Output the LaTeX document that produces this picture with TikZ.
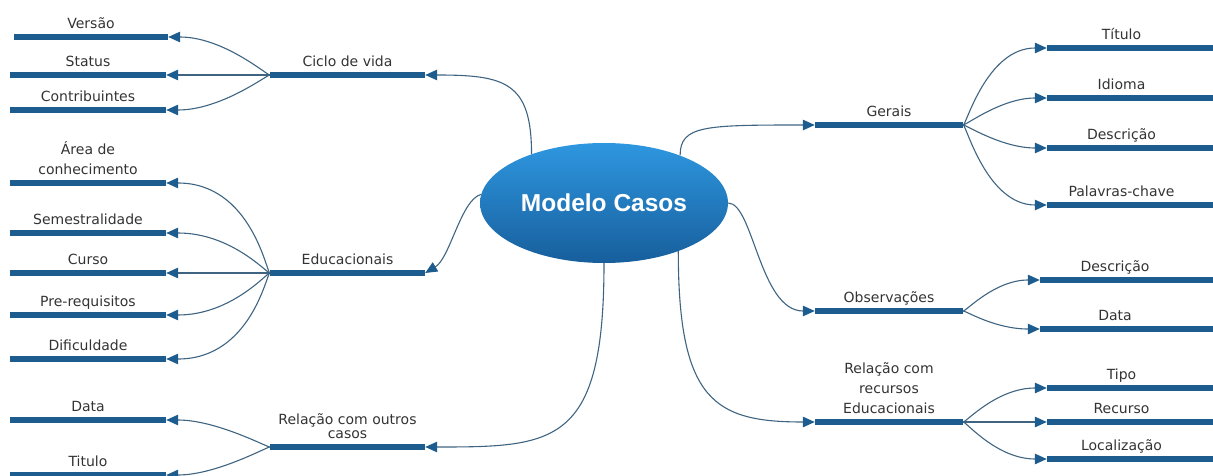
\documentclass[tikz,border=0pt]{standalone}
\usepackage{fontspec}
\setmainfont{DejaVu Sans}
\newfontfamily\headfont{Liberation Sans}
\usetikzlibrary{shapes.geometric,arrows.meta}

\definecolor{barblue}{HTML}{1D5C8E}
\definecolor{linkblue}{HTML}{3E6482}
\definecolor{labelgray}{HTML}{333333}
\definecolor{hubtop}{HTML}{2E97E0}
\definecolor{hubbottom}{HTML}{175E9C}

\tikzset{
  % central ellipse
  hub/.style={ellipse, minimum width=248pt, minimum height=120pt, inner sep=0pt,
    top color=hubtop, bottom color=hubbottom, text=white,
    font=\headfont\bfseries\fontsize{24.5}{28}\selectfont},
  % thick underline bar that carries a topic
  topic/.style={rectangle, fill=barblue, inner sep=0pt, minimum height=5.5pt,
    label distance=1.2pt},
  lbl/.style={font=\fontsize{14}{17}\selectfont, text=labelgray, inner sep=0pt,
    align=center},
  link/.style={draw=linkblue, line width=1.1pt,
    -{Triangle[length=12pt,width=10.5pt,color=barblue]}},
}

\begin{document}
\begin{tikzpicture}[x=1pt,y=-1pt]
\useasboundingbox (0,0) rectangle (1213,476);

\node[hub] (m) at (604,203) {Modelo Casos};

% ---- left branches ----
\node[topic, minimum width=155pt, label={[lbl]above:{Ciclo de vida\strut}}] (ciclo) at (347.5,75) {};
\node[topic, minimum width=155pt, label={[lbl]above:{Educacionais\strut}}] (educ) at (347.5,273) {};
\node[topic, minimum width=155pt, label={[lbl]above:{Relação com outros\\[-3pt]casos\strut}}] (routros) at (347.5,447) {};

\node[topic, minimum width=154pt, label={[lbl]above:{Versão\strut}}] (versao) at (91,37) {};
\node[topic, minimum width=156pt, label={[lbl]above:{Status\strut}}] (status) at (88,75) {};
\node[topic, minimum width=156pt, label={[lbl]above:{Contribuintes\strut}}] (contrib) at (88,110) {};

\node[topic, minimum width=156pt, label={[lbl]above:{Área de\\[3pt]conhecimento\strut}}] (area) at (88,183) {};
\node[topic, minimum width=156pt, label={[lbl]above:{Semestralidade\strut}}] (semestr) at (88,233) {};
\node[topic, minimum width=156pt, label={[lbl]above:{Curso\strut}}] (curso) at (88,273) {};
\node[topic, minimum width=156pt, label={[lbl]above:{Pre-requisitos\strut}}] (prereq) at (88,315) {};
\node[topic, minimum width=156pt, label={[lbl]above:{Dificuldade\strut}}] (dific) at (88,359) {};

\node[topic, minimum width=156pt, label={[lbl]above:{Data\strut}}] (rdata) at (88,420) {};
\node[topic, minimum width=156pt, label={[lbl]above:{Titulo\strut}}] (rtitulo) at (88,475) {};

% ---- right branches ----
\node[topic, minimum width=148pt, label={[lbl]above:{Gerais\strut}}] (gerais) at (889,125) {};
\node[topic, minimum width=148pt, label={[lbl]above:{Observações\strut}}] (obs) at (889,311) {};
\node[topic, minimum width=148pt, label={[lbl]above:{Relação com\\[3pt]recursos\\[3pt]Educacionais\strut}}] (rrec) at (889,422) {};

\node[topic, minimum width=166pt, label={[lbl,xshift=-8.5pt]above:{Título\strut}}] (titulo) at (1130,48) {};
\node[topic, minimum width=166pt, label={[lbl,xshift=-8.5pt]above:{Idioma\strut}}] (idioma) at (1130,98) {};
\node[topic, minimum width=166pt, label={[lbl,xshift=-8.5pt]above:{Descrição\strut}}] (gdesc) at (1130,148) {};
\node[topic, minimum width=166pt, label={[lbl,xshift=-8.5pt]above:{Palavras-chave\strut}}] (palavras) at (1130,205) {};

\node[topic, minimum width=173pt, label={[lbl,xshift=-11.5pt]above:{Descrição\strut}}] (odesc) at (1126.5,280) {};
\node[topic, minimum width=173pt, label={[lbl,xshift=-11.5pt]above:{Data\strut}}] (odata) at (1126.5,329) {};

\node[topic, minimum width=166pt, label={[lbl,xshift=-8.5pt]above:{Tipo\strut}}] (tipo) at (1130,388) {};
\node[topic, minimum width=166pt, label={[lbl,xshift=-8.5pt]above:{Recurso\strut}}] (recurso) at (1130,422) {};
\node[topic, minimum width=166pt, label={[lbl,xshift=-8.5pt]above:{Localização\strut}}] (local) at (1130,459) {};

% ---- links from the central ellipse ----
\draw[link] (m.146.7) .. controls +(0,-72) and +(80,0) .. (ciclo.east);
\draw[link] (m.176) .. controls +(-20,5) and +(25,-15) .. (educ.east);
\draw[link] (m.south) .. controls +(0,182) and +(130,0) .. (routros.east);
\draw[link] (m.32) .. controls +(0,-30) and +(-110,0) .. (gerais.west);
\draw[link] (m.east) .. controls +(25,0) and +(-55,0) .. (obs.west);
\draw[link] (m.-33) .. controls +(0,150) and +(-100,0) .. (rrec.west);

% ---- fan-out links, left ----
\draw[link] (ciclo.west) .. controls +(-3,0) and +(55,0) .. (versao.east);
\draw[link] (ciclo.west) -- (status.east);
\draw[link] (ciclo.west) .. controls +(-3,0) and +(55,0) .. (contrib.east);

\draw[link] (educ.west) .. controls +(-3,0) and +(85,0) .. (area.east);
\draw[link] (educ.west) .. controls +(-3,0) and +(65,0) .. (semestr.east);
\draw[link] (educ.west) -- (curso.east);
\draw[link] (educ.west) .. controls +(-3,0) and +(65,0) .. (prereq.east);
\draw[link] (educ.west) .. controls +(-3,0) and +(85,0) .. (dific.east);

\draw[link] (routros.west) .. controls +(-3,0) and +(50,0) .. (rdata.east);
\draw[link] (routros.west) .. controls +(-3,0) and +(50,0) .. (rtitulo.east);

% ---- fan-out links, right ----
\draw[link] (gerais.east) .. controls +(3,0) and +(-60,0) .. (titulo.west);
\draw[link] (gerais.east) .. controls +(3,0) and +(-45,0) .. (idioma.west);
\draw[link] (gerais.east) .. controls +(3,0) and +(-45,0) .. (gdesc.west);
\draw[link] (gerais.east) .. controls +(3,0) and +(-60,0) .. (palavras.west);

\draw[link] (obs.east) .. controls +(3,0) and +(-45,0) .. (odesc.west);
\draw[link] (obs.east) .. controls +(3,0) and +(-45,0) .. (odata.west);

\draw[link] (rrec.east) .. controls +(3,0) and +(-50,0) .. (tipo.west);
\draw[link] (rrec.east) -- (recurso.west);
\draw[link] (rrec.east) .. controls +(3,0) and +(-50,0) .. (local.west);
\end{tikzpicture}
\end{document}
